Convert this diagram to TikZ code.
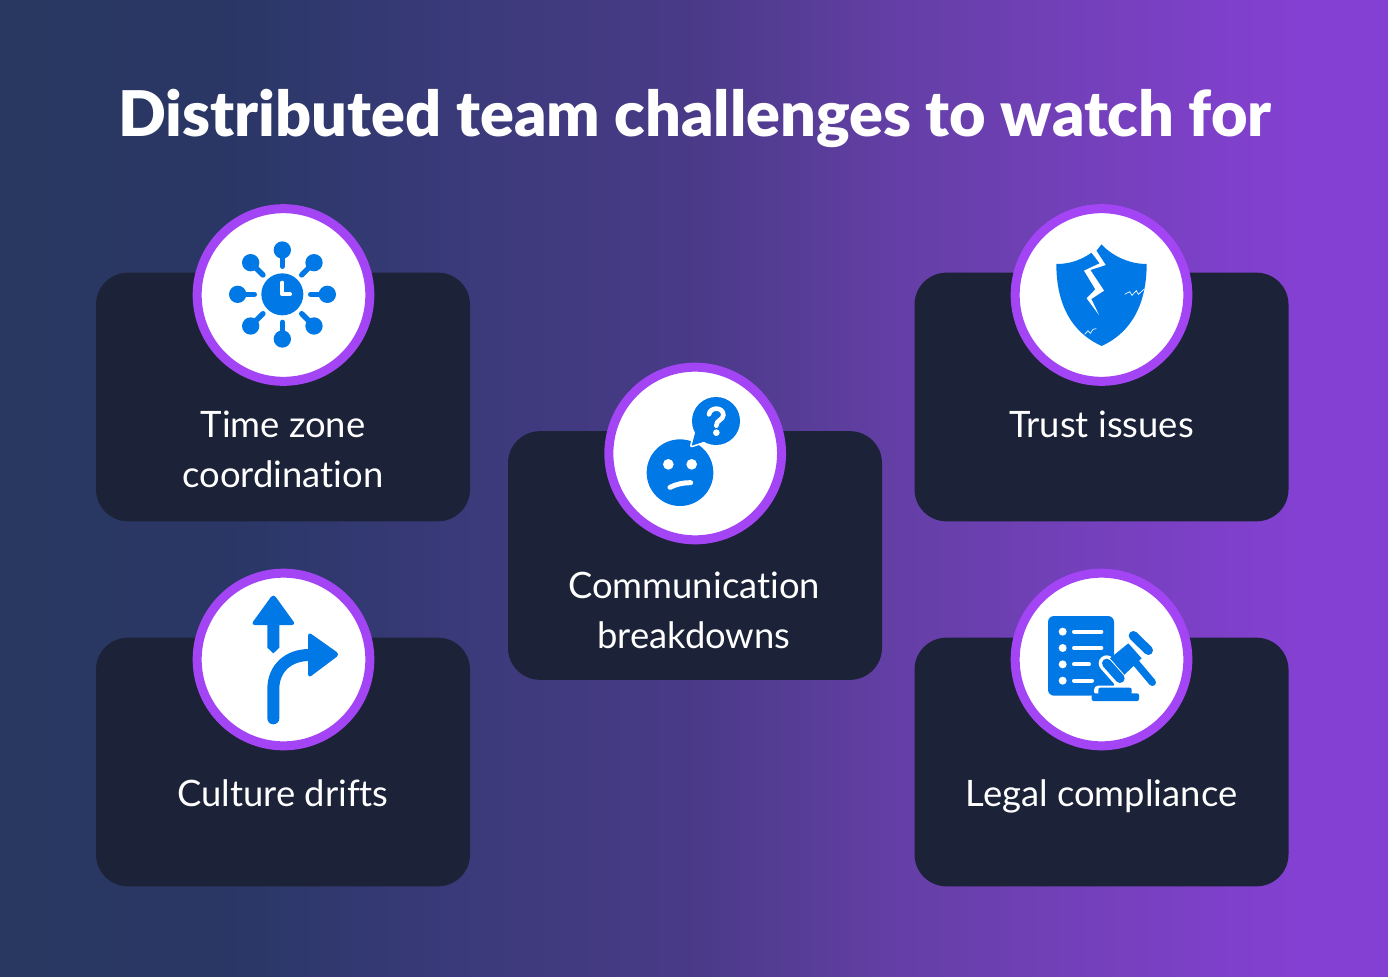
\documentclass[tikz,border=0pt]{standalone}
\usepackage{fontspec}
\setmainfont[Ligatures=NoCommon,BoldFont={Lato Black}]{Lato}
\definecolor{cardnavy}{HTML}{1C2237}
\definecolor{ringpurple}{HTML}{A445F5}
\definecolor{iconblue}{HTML}{0078E6}
\definecolor{bgstopa}{HTML}{293860}
\definecolor{bgstopb}{HTML}{2A3766}
\definecolor{bgstopc}{HTML}{3A3A7A}
\definecolor{bgstopd}{HTML}{4A3A88}
\definecolor{bgstope}{HTML}{643FA6}
\definecolor{bgstopf}{HTML}{7540BC}
\definecolor{bgstopg}{HTML}{8440D2}
\pgfdeclarehorizontalshading{bgfade}{100bp}{
color(0bp)=(bgstopa);
color(25bp)=(bgstopa);
color(33.3bp)=(bgstopb);
color(41.6bp)=(bgstopc);
color(50.2bp)=(bgstopd);
color(57.4bp)=(bgstope);
color(64.6bp)=(bgstopf);
color(71.8bp)=(bgstopg);
color(75bp)=(bgstopg);
color(100bp)=(bgstopg)}
\tikzset{
card/.style={fill=cardnavy,rounded corners=24pt,minimum width=280.5pt,minimum height=186.5pt},
badge/.style={circle,fill=white,draw=ringpurple,line width=6.75pt,minimum size=129.5pt},
cardtext/.style={text=white,font=\fontsize{27.3}{37.5}\selectfont,align=center,anchor=north},
iconbox/.style={shift={#1},x=.25pt,y=-.25pt}
}
\begin{document}
\begin{tikzpicture}[x=.75pt,y=-.75pt]
\useasboundingbox (0,0) rectangle (1388,977);
\fill[shading=bgfade] (0,0) rectangle (1388,977);
\node[text=white,font=\fontsize{47.2}{54}\selectfont\bfseries] (title) at (695,118) {Distributed team challenges to watch for};

\node[card] (cardtime) at (283,397) {};
\node[card] (cardculture) at (283,762) {};
\node[card] (cardcomm) at (695,555.5) {};
\node[card] (cardtrust) at (1101.5,397) {};
\node[card] (cardlegal) at (1101.5,762) {};

\node[badge] (badgetime) at (283.5,295) {};
\node[badge] (badgeculture) at (283.5,659.5) {};
\node[badge] (badgecomm) at (695.2,453.5) {};
\node[badge] (badgetrust) at (1101.5,295) {};
\node[badge] (badgelegal) at (1101.5,659.5) {};

\node[cardtext] (texttime) at (283,406) {Time zone\\coordination};
\node[cardtext] (textculture) at (283,775) {Culture drifts};
\node[cardtext] (textcomm) at (694,567) {Communication\\breakdowns};
\node[cardtext] (texttrust) at (1101.5,406) {Trust issues};
\node[cardtext] (textlegal) at (1101.5,775) {Legal compliance};

% clock with spokes
\begin{scope}[iconbox={(190,200)}]
\fill[iconblue] (277,283) circle (63);
\draw[white,line width=3pt,line cap=round,line join=round] (277,248)--(277,283)--(300,283);
\fill[iconblue] (277,150) circle (26);
\fill[iconblue] (277,417) circle (26);
\fill[iconblue] (143,283) circle (26);
\fill[iconblue] (412,283) circle (26);
\fill[iconblue] (182,188) circle (26);
\fill[iconblue] (372,188) circle (26);
\fill[iconblue] (182,378) circle (26);
\fill[iconblue] (372,378) circle (26);
\draw[iconblue,line width=4pt,line cap=round] (277,150)--(277,199);
\draw[iconblue,line width=4pt,line cap=round] (277,417)--(277,367);
\draw[iconblue,line width=4pt,line cap=round] (143,283)--(193,283);
\draw[iconblue,line width=4pt,line cap=round] (412,283)--(362,283);
\draw[iconblue,line width=4pt,line cap=round] (182,188)--(219,225);
\draw[iconblue,line width=4pt,line cap=round] (372,188)--(335,225);
\draw[iconblue,line width=4pt,line cap=round] (182,378)--(219,341);
\draw[iconblue,line width=4pt,line cap=round] (372,378)--(335,341);
\end{scope}

% cracked shield
\begin{scope}[iconbox={(1008,200)}]
\fill[iconblue] (145,192) .. controls (190,192) and (225,178) .. (262,150) -- (280,133) .. controls (310,165) and (360,192) .. (416,192) .. controls (416,290) and (385,390) .. (281,438) .. controls (175,390) and (145,290) .. (145,192) -- cycle;
\fill[white] (250,157)--(275,190)--(228,212)--(262,268)--(236,295)--(273,345)--(250,297)--(288,272)--(247,210)--(293,195)--(265,152)--(280,133)--(255,125)--cycle;
\draw[white,line width=.5pt] (350,283)--(365,275)--(372,286)--(385,272)--(391,283)--(408,268);
\draw[white,line width=.5pt] (230,403)--(240,392)--(247,400)--(255,388)--(265,386);
\end{scope}

% puzzled face
\begin{scope}[iconbox={(600,360)}]
\fill[iconblue] (240,338) circle (100);
\draw[white,line width=2.5pt,fill=iconblue,line join=round] (287,212)--(275,257)--(318,243)--cycle;
\fill[iconblue] (348,183) circle (72);
\fill[iconblue] (287,212)--(275,257)--(318,243)--cycle;
\fill[white] (205,313) circle (16);
\fill[white] (275,313) circle (16);
\draw[white,line width=3.75pt,line cap=round] (210,382) .. controls (230,372) and (250,368) .. (272,368);
\draw[white,line width=3.5pt,line cap=round] (327,163) .. controls (330,140) and (370,140) .. (370,165) .. controls (370,180) and (348,180) .. (349,197);
\fill[white] (349,218) circle (10);
\end{scope}

% forked arrows
\begin{scope}[iconbox={(190,565)}]
\fill[iconblue] (232,248) -- (232,180) [rounded corners=3pt] -- (182,180) -- (250,86) -- (318,180) [sharp corners] -- (268,180) -- (268,248) -- (250,265) -- cycle;
\draw[iconblue,line width=9pt,line cap=round] (250,460) -- (250,372) .. controls (250,310) and (295,270) .. (358,270);
\fill[iconblue,rounded corners=3pt] (354,200) -- (450,268) -- (354,340) -- cycle;
\end{scope}

% document and gavel
\begin{scope}[iconbox={(1008,565)}]
\fill[iconblue,rounded corners=4.5pt] (120,153) rectangle (318,392);
\fill[white] (164,200) circle (12);
\fill[white] (164,249) circle (12);
\fill[white] (164,298) circle (12);
\fill[white] (164,347) circle (12);
\draw[white,line width=3pt,line cap=round] (198,200)--(280,200);
\draw[white,line width=3pt,line cap=round] (198,249)--(280,249);
\draw[white,line width=3pt,line cap=round] (198,298)--(243,298);
\draw[white,line width=3pt,line cap=round] (198,347)--(252,347);
\draw[white,line width=12pt,line cap=round] (296,295)--(336,340);
\fill[white,rounded corners=3pt] (238,392) rectangle (400,412);
\fill[white,rounded corners=3pt] (258,362) rectangle (385,392);
\fill[iconblue] (361,235)--(306,280)--(348,330)--(401,280)--cycle;
\draw[white,line width=8.4pt,line cap=round] (296,295)--(336,340);
\draw[iconblue,line width=7pt,line cap=round] (296,295)--(336,340);
\draw[iconblue,line width=7pt,line cap=round] (376,212)--(421,256);
\draw[iconblue,line width=5.5pt,line cap=round] (385,295)--(433,352);
\fill[iconblue,rounded corners=1.5pt] (271,368) rectangle (371,390);
\fill[iconblue,rounded corners=1.5pt] (251,385) rectangle (393,408);
\end{scope}
\end{tikzpicture}
\end{document}
